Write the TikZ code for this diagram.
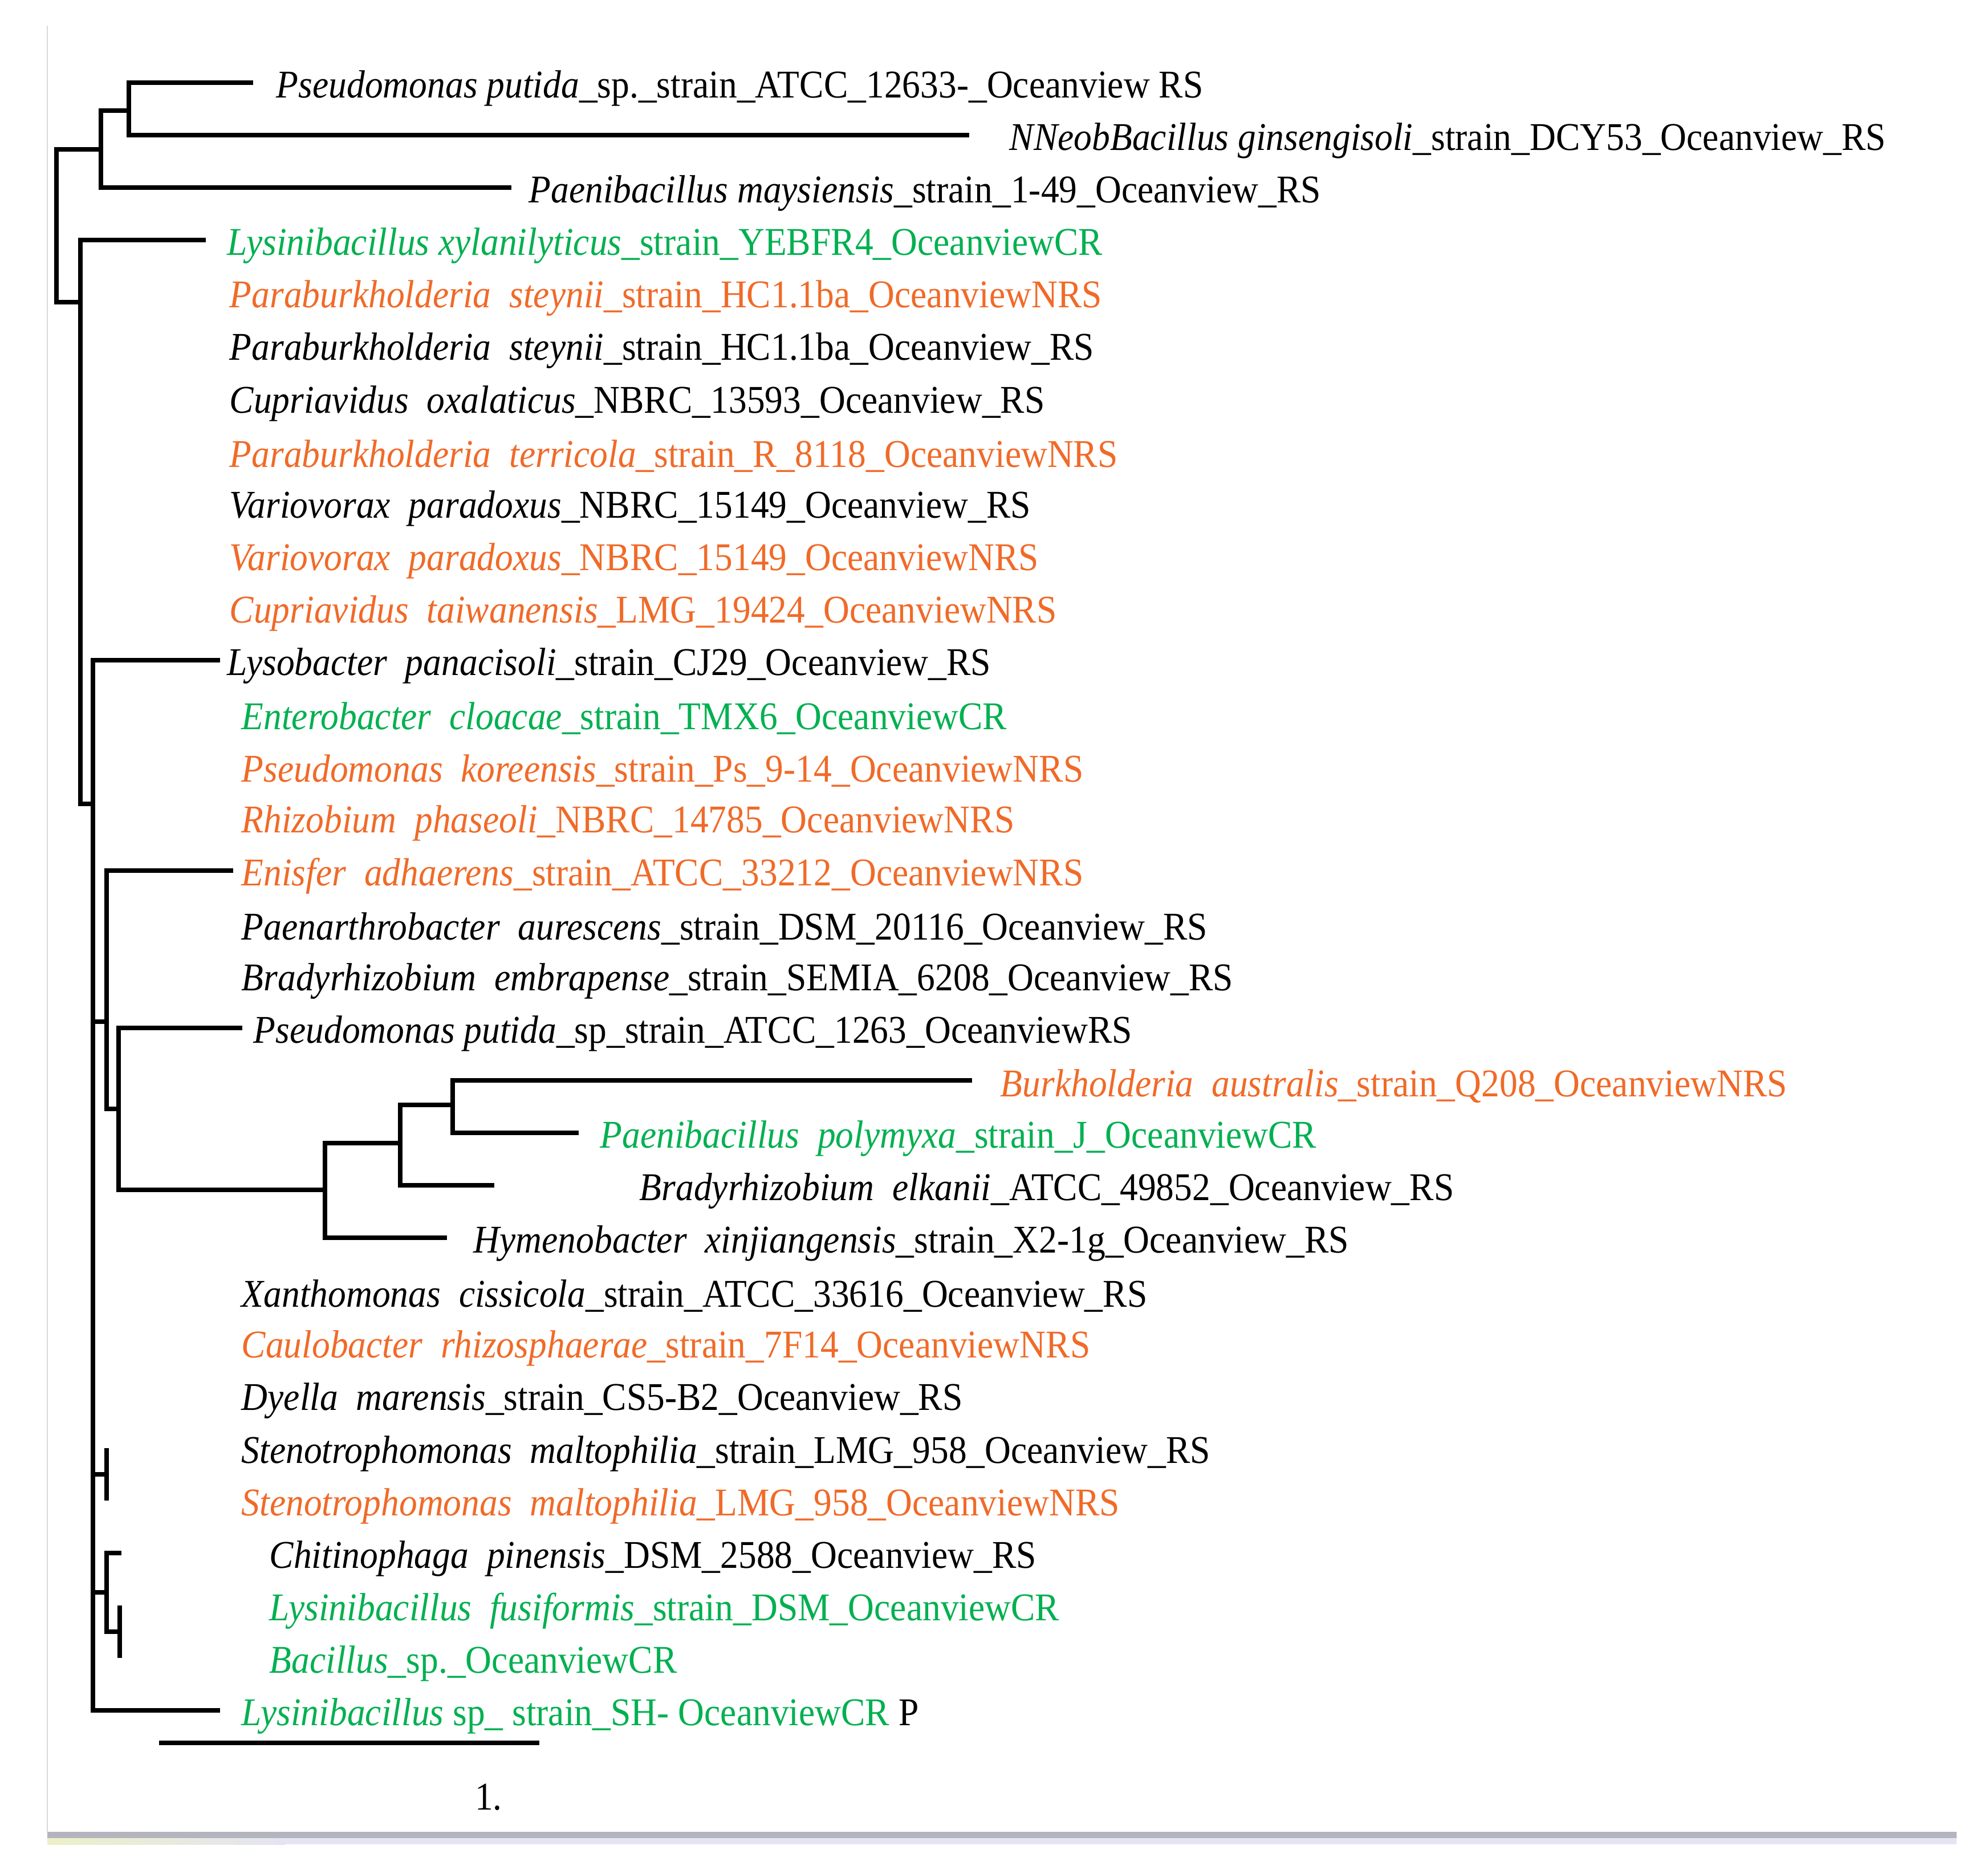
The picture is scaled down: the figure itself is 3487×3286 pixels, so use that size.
\documentclass[tikz,border=0pt]{standalone}
\usepackage{fontspec}
\setmainfont{Liberation Serif}[FakeStretch=0.922]
\usepackage{tikz}
\usetikzlibrary{positioning}
\definecolor{ovgreen}{RGB}{0,176,80}
\definecolor{ovorange}{RGB}{240,106,40}
\definecolor{bandgray}{RGB}{180,180,190}
\definecolor{bandlav}{RGB}{228,228,242}
\begin{document}
\begin{tikzpicture}[x=0.01cm,y=-0.01cm,
    branch/.style={line width=2.2pt},
    leaf/.style={anchor=west,inner sep=0pt,font=\fontsize{19.6}{23}\selectfont},
    cr/.style={leaf,text=ovgreen},
    nrs/.style={leaf,text=ovorange}]
                \useasboundingbox (0,0) rectangle (3487,3286);
                % frame of the screenshot
                \draw [black!15, line width=0.8pt] (83,45) -- (83,3214);
                \fill [bandgray] (83,3213) rectangle (3432,3224);
                \shade [left color={rgb,255:red,236;green,240;blue,200}, right color=bandlav] (83,3224) rectangle (500,3235);
                \fill [bandlav] (500,3224) rectangle (3432,3235);
                % labels
                \node [leaf] (l0) at (484,155) {\textit{Pseudomonas putida}\_sp.\_strain\_ATCC\_12633-\_Oceanview RS};
                \node [leaf] (l1) at (1770,247) {\textit{NNeobBacillus ginsengisoli}\_strain\_DCY53\_Oceanview\_RS};
                \node [leaf] (l2) at (927,339) {\textit{Paenibacillus maysiensis}\_strain\_1-49\_Oceanview\_RS};
                \node [cr] (l3) at (398,431) {\textit{Lysinibacillus xylanilyticus}\_strain\_YEBFR4\_OceanviewCR};
                \node [nrs] (l4) at (402,523) {\textit{Paraburkholderia\ \ steynii}\_strain\_HC1.1ba\_OceanviewNRS};
                \node [leaf] (l5) at (402,615) {\textit{Paraburkholderia\ \ steynii}\_strain\_HC1.1ba\_Oceanview\_RS};
                \node [leaf] (l6) at (402,708) {\textit{Cupriavidus\ \ oxalaticus}\_NBRC\_13593\_Oceanview\_RS};
                \node [nrs] (l7) at (402,800) {\textit{Paraburkholderia\ \ terricola}\_strain\_R\_8118\_OceanviewNRS};
                \node [leaf] (l8) at (402,892) {\textit{Variovorax\ \ paradoxus}\_NBRC\_15149\_Oceanview\_RS};
                \node [nrs] (l9) at (402,984) {\textit{Variovorax\ \ paradoxus}\_NBRC\_15149\_OceanviewNRS};
                \node [nrs] (l10) at (402,1076) {\textit{Cupriavidus\ \ taiwanensis}\_LMG\_19424\_OceanviewNRS};
                \node [leaf] (l11) at (398,1168) {\textit{Lysobacter\ \ panacisoli}\_strain\_CJ29\_Oceanview\_RS};
                \node [cr] (l12) at (423,1260) {\textit{Enterobacter\ \ cloacae}\_strain\_TMX6\_OceanviewCR};
                \node [nrs] (l13) at (423,1352) {\textit{Pseudomonas\ \ koreensis}\_strain\_Ps\_9-14\_OceanviewNRS};
                \node [nrs] (l14) at (423,1444) {\textit{Rhizobium\ \ phaseoli}\_NBRC\_14785\_OceanviewNRS};
                \node [nrs] (l15) at (423,1537) {\textit{Enisfer\ \ adhaerens}\_strain\_ATCC\_33212\_OceanviewNRS};
                \node [leaf] (l16) at (423,1629) {\textit{Paenarthrobacter\ \ aurescens}\_strain\_DSM\_20116\_Oceanview\_RS};
                \node [leaf] (l17) at (423,1721) {\textit{Bradyrhizobium\ \ embrapense}\_strain\_SEMIA\_6208\_Oceanview\_RS};
                \node [leaf] (l18) at (444,1813) {\textit{Pseudomonas putida}\_sp\_strain\_ATCC\_1263\_OceanviewRS};
                \node [nrs] (l19) at (1754,1905) {\textit{Burkholderia\ \ australis}\_strain\_Q208\_OceanviewNRS};
                \node [cr] (l20) at (1052,1997) {\textit{Paenibacillus\ \ polymyxa}\_strain\_J\_OceanviewCR};
                \node [leaf] (l21) at (1121,2089) {\textit{Bradyrhizobium\ \ elkanii}\_ATCC\_49852\_Oceanview\_RS};
                \node [leaf] (l22) at (830,2181) {\textit{Hymenobacter\ \ xinjiangensis}\_strain\_X2-1g\_Oceanview\_RS};
                \node [leaf] (l23) at (423,2273) {\textit{Xanthomonas\ \ cissicola}\_strain\_ATCC\_33616\_Oceanview\_RS};
                \node [nrs] (l24) at (423,2365) {\textit{Caulobacter\ \ rhizosphaerae}\_strain\_7F14\_OceanviewNRS};
                \node [leaf] (l25) at (423,2457) {\textit{Dyella\ \ marensis}\_strain\_CS5-B2\_Oceanview\_RS};
                \node [leaf] (l26) at (423,2550) {\textit{Stenotrophomonas\ \ maltophilia}\_strain\_LMG\_958\_Oceanview\_RS};
                \node [nrs] (l27) at (423,2642) {\textit{Stenotrophomonas\ \ maltophilia}\_LMG\_958\_OceanviewNRS};
                \node [leaf] (l28) at (472,2734) {\textit{Chitinophaga\ \ pinensis}\_DSM\_2588\_Oceanview\_RS};
                \node [cr] (l29) at (472,2826) {\textit{Lysinibacillus\ \ fusiformis}\_strain\_DSM\_OceanviewCR};
                \node [cr] (l30) at (472,2918) {\textit{Bacillus}\_sp.\_OceanviewCR};
                \node [cr] (l31) at (423,3010) {\textit{Lysinibacillus} sp\_ strain\_SH- OceanviewCR \textcolor{black}{P}};
                % branch tips
                \coordinate (t0) at (444,145);
                \coordinate (t1) at (1700,237);
                \coordinate (t2) at (897,329);
                \coordinate (t3) at (361,421);
                \coordinate (t11) at (386,1158);
                \coordinate (t15) at (409,1527);
                \coordinate (t18) at (425,1803);
                \coordinate (t19) at (1705,1895);
                \coordinate (t20) at (1015,1987);
                \coordinate (t21) at (867,2079);
                \coordinate (t22) at (784,2171);
                \coordinate (t26) at (187,2540);
                \coordinate (t27) at (187,2632);
                \coordinate (t28) at (213,2724);
                \coordinate (t29) at (210,2816);
                \coordinate (t30) at (210,2908);
                \coordinate (t31) at (386,3000);
                % inner nodes
                \coordinate (root) at (99,262);
                \coordinate (nA) at (177,262);
                \coordinate (nB) at (226,194);
                \coordinate (nC) at (141,530);
                \coordinate (nD) at (163,1410);
                \coordinate (nE) at (187,1792);
                \coordinate (nF) at (208,1945);
                \coordinate (nG) at (570,2087);
                \coordinate (nH) at (702,2005);
                \coordinate (nI) at (794,1938);
                \coordinate (nJ) at (187,2586);
                \coordinate (nK) at (187,2793);
                \coordinate (nL) at (210,2862);
                % branches
                \draw [branch] (nA) -- (root) |- (nC);
                \draw [branch] (nB) -| (nA) |- (t2);
                \draw [branch] (t0) -| (nB) |- (t1);
                \draw [branch] (t3) -| (nC) |- (nD);
                \draw [branch] (t11) -| (nD) |- (t31);
                \draw [branch] (nE -| nD) -- (nE);
                \draw [branch] (t15) -| (nE) |- (nF);
                \draw [branch] (t18) -| (nF) |- (nG);
                \draw [branch] (nH) -| (nG) |- (t22);
                \draw [branch] (nI) -| (nH) |- (t21);
                \draw [branch] (t19) -| (nI) |- (t20);
                \draw [branch] (nJ -| nD) -- (nJ);
                \draw [branch] (t26) -- (t27);
                \draw [branch] (nK -| nD) -- (nK);
                \draw [branch] (t28) -| (nK) |- (nL);
                \draw [branch] (t29) -- (t30);
                % scale bar
                \coordinate (s0) at (279,3057);
                \coordinate (s1) at (946,3057);
                \draw [branch] (s0) -- (s1);
                \node [font=\fontsize{19.6}{23}\selectfont] (scale) at (857,3152) {1.};
\end{tikzpicture}
\end{document}
